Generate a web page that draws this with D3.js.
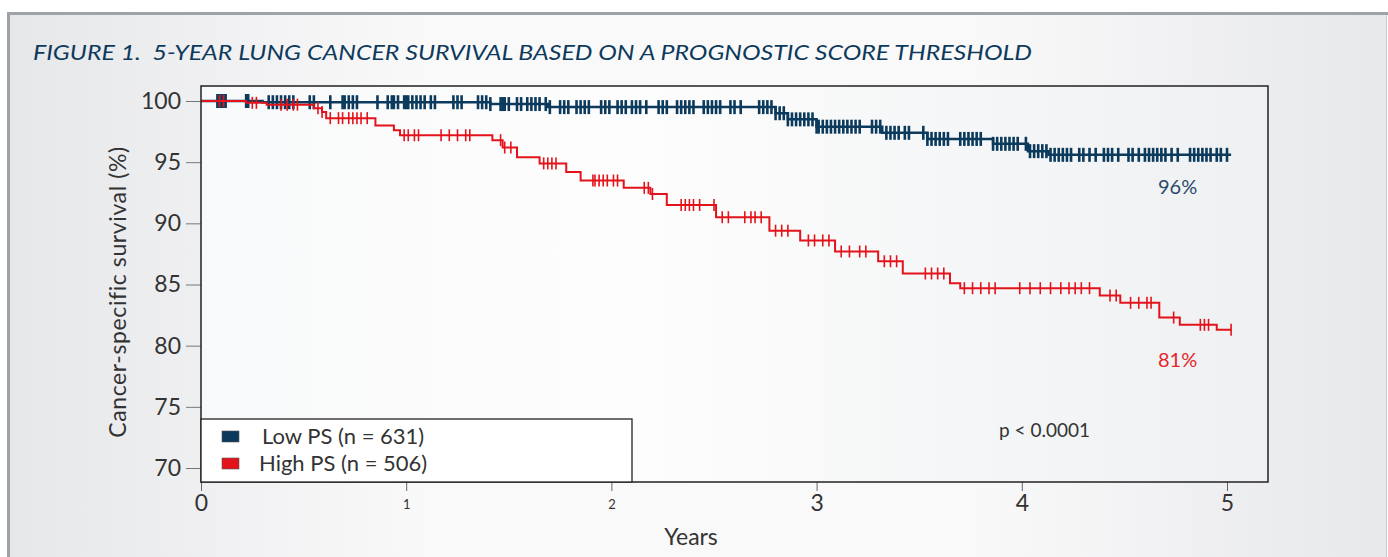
<!DOCTYPE html>
<html>
<head>
<meta charset="utf-8">
<script src="https://cdn.jsdelivr.net/npm/d3@7"></script>
<style>
body { margin: 0; background: #fff; }
text { font-family: Lato, "Noto Sans", sans-serif; }
</style>
</head>
<body>
<svg id="chart"></svg>
<script>
// step points of the two curves (years, survival %)
var lowTimes = [0, 0.30, 1.41, 1.69, 2.80, 2.86, 3.00, 3.32, 3.54, 3.86, 4.03, 4.13];
var lowSurv  = [100, 99.9, 99.75, 99.5, 99.0, 98.5, 97.9, 97.4, 96.9, 96.5, 95.9, 95.6];
var lowEnd = 5.02;

var highTimes = [0, 0.22, 0.32, 0.55, 0.59, 0.61, 0.85, 0.94, 0.97, 1.42, 1.47, 1.54, 1.65, 1.78, 1.85, 2.06, 2.19, 2.27, 2.51, 2.77, 2.92, 3.09, 3.30, 3.42, 3.65, 3.70, 4.38, 4.48, 4.67, 4.77, 4.95];
var highSurv  = [100, 99.85, 99.7, 99.4, 99.1, 98.6, 98.0, 97.6, 97.2, 96.8, 96.2, 95.4, 94.9, 94.2, 93.5, 92.9, 92.4, 91.5, 90.5, 89.4, 88.6, 87.7, 86.9, 85.9, 85.1, 84.7, 84.1, 83.5, 82.3, 81.7, 81.3];
var highEnd = 5.02;

// censored times
var lowCensor = [0.08,0.09,0.10,0.11,0.12,0.22,0.23,0.33,0.35,0.37,0.39,0.41,0.43,0.45,0.53,0.55,0.63,0.69,0.70,0.72,0.74,0.76,0.86,0.91,0.93,0.94,0.96,
  0.99,1.00,1.01,1.03,1.05,1.07,1.09,1.12,1.14,1.23,1.25,1.27,1.35,1.37,1.39,1.41,1.46,1.47,1.48,1.50,1.54,1.56,1.59,1.61,1.63,1.65,1.68,1.70,
  1.75,1.77,1.79,1.83,1.85,1.87,1.89,1.95,1.97,1.99,2.03,2.05,2.07,2.10,2.12,2.14,2.17,2.23,2.25,2.27,2.32,2.34,2.36,2.38,2.40,2.45,2.47,2.49,2.51,2.53,
  2.58,2.60,2.63,2.72,2.74,2.76,2.78,2.80,2.82,2.84,2.86,2.88,2.90,2.92,2.94,2.96,2.98,3.00,3.01,3.03,3.05,3.07,3.09,3.11,3.13,3.15,3.17,3.19,3.21,
  3.27,3.29,3.31,3.34,3.36,3.38,3.40,3.43,3.45,3.52,3.54,3.56,3.58,3.60,3.62,3.64,3.70,3.72,3.74,3.76,3.78,3.80,3.86,3.88,3.90,3.92,3.94,3.96,3.98,
  4.02,4.04,4.06,4.08,4.10,4.12,4.14,4.16,4.18,4.20,4.22,4.24,4.28,4.30,4.33,4.36,4.40,4.42,4.44,4.47,4.52,4.54,4.57,4.60,4.62,4.64,4.66,4.68,4.70,
  4.73,4.76,4.82,4.84,4.86,4.88,4.90,4.92,4.95,4.97,5.00];
var highCensor = [0.09,0.11,0.25,0.27,0.39,0.42,0.45,0.47,0.57,0.59,0.63,0.67,0.69,0.72,0.74,0.76,0.78,0.81,0.99,1.01,1.04,1.06,1.17,1.21,1.25,1.29,1.31,
  1.46,1.48,1.51,1.67,1.69,1.71,1.73,1.91,1.92,1.94,1.96,1.98,2.01,2.03,2.16,2.18,2.20,2.34,2.36,2.38,2.40,2.43,2.50,2.54,2.57,2.65,2.68,2.70,2.73,
  2.80,2.83,2.86,2.96,2.99,3.03,3.06,3.12,3.16,3.21,3.24,3.33,3.36,3.39,3.53,3.56,3.59,3.62,3.72,3.76,3.80,3.84,3.87,3.99,4.04,4.09,4.14,4.19,4.23,
  4.26,4.29,4.33,4.43,4.46,4.53,4.57,4.61,4.63,4.74,4.87,4.89,4.91,5.02];

var xTicks = [0, 1, 2, 3, 4, 5];
var yTicks = [70, 75, 80, 85, 90, 95, 100];
var legendLabels = ["Low PS (n = 631)", "High PS (n = 506)"];
var endLabels = ["96%", "81%"];

var navy = "#0b3a5c", red = "#e3131b";

var W = 1388, H = 557;
var plot = {left: 201, top: 86, right: 1268, bottom: 482};

var svg = d3.select("#chart").attr("width", W).attr("height", H);
var defs = svg.append("defs");

var g1 = defs.append("linearGradient").attr("id", "outerBg");
g1.append("stop").attr("offset", "0%").attr("stop-color", "#e6e7e9");
g1.append("stop").attr("offset", "30%").attr("stop-color", "#f9f9fa");
g1.append("stop").attr("offset", "70%").attr("stop-color", "#f9f9fa");
g1.append("stop").attr("offset", "100%").attr("stop-color", "#e7e8ea");

var g2 = defs.append("linearGradient").attr("id", "plotBg");
g2.append("stop").attr("offset", "0%").attr("stop-color", "#f8f9fa");
g2.append("stop").attr("offset", "40%").attr("stop-color", "#fdfdfd");
g2.append("stop").attr("offset", "100%").attr("stop-color", "#eef0f2");

// outer panel
svg.append("rect").attr("x", 8).attr("y", 13).attr("width", W - 9).attr("height", H - 13)
  .attr("fill", "url(#outerBg)");
svg.append("line").attr("x1", 7).attr("x2", W).attr("y1", 13.5).attr("y2", 13.5)
  .attr("stroke", "#9ea3a8").attr("stroke-width", 3);
svg.append("line").attr("x1", 8.5).attr("x2", 8.5).attr("y1", 12).attr("y2", H)
  .attr("stroke", "#9ea3a8").attr("stroke-width", 3);
svg.append("line").attr("x1", W - 1.5).attr("x2", W - 1.5).attr("y1", 15).attr("y2", H)
  .attr("stroke", "#c9ccd0").attr("stroke-width", 1);

svg.append("text").attr("x", 33).attr("y", 60)
  .attr("fill", "#0d3a5c").attr("font-size", 22).attr("font-style", "italic")
  .attr("font-family", "'Open Sans', Lato, sans-serif")
  .style("white-space", "pre")
  .attr("textLength", 999).attr("lengthAdjust", "spacingAndGlyphs")
  .text("FIGURE 1.  5-YEAR LUNG CANCER SURVIVAL BASED ON A PROGNOSTIC SCORE THRESHOLD");

var x = d3.scaleLinear().domain([0, 5]).range([201, 1227]);
var y = d3.scaleLinear().domain([70, 100]).range([468, 101]);

svg.append("rect").attr("x", plot.left).attr("y", plot.top)
  .attr("width", plot.right - plot.left).attr("height", plot.bottom - plot.top)
  .attr("fill", "url(#plotBg)");

// axes
var xAxis = svg.append("g").attr("transform", "translate(0," + plot.bottom + ")")
  .call(d3.axisBottom(x).tickValues(xTicks).tickFormat(d3.format("d")).tickSize(9).tickPadding(4));
xAxis.select(".domain").remove();
xAxis.selectAll(".tick line").attr("stroke", "#666");
xAxis.selectAll(".tick text").attr("fill", "#333").attr("font-family", "Lato")
  .attr("font-size", function(d) { return (d == 1 || d == 2) ? 13 : 23; })
  .attr("dy", function(d) { return (d == 1 || d == 2) ? "1.1em" : "0.71em"; });

var yAxis = svg.append("g").attr("transform", "translate(" + plot.left + ",0)")
  .call(d3.axisLeft(y).tickValues(yTicks).tickSize(15).tickPadding(5));
yAxis.select(".domain").remove();
yAxis.selectAll(".tick line").attr("stroke", "#777");
yAxis.selectAll(".tick text").attr("fill", "#333").attr("font-family", "Lato").attr("font-size", 23);

svg.append("text").attr("x", 691).attr("y", 545).attr("text-anchor", "middle")
  .attr("fill", "#333").attr("font-size", 23).text("Years");
svg.append("text").attr("transform", "translate(126,292) rotate(-90)").attr("text-anchor", "middle")
  .attr("fill", "#333").attr("font-size", 23).attr("letter-spacing", 0.6)
  .text("Cancer-specific survival (%)");

// curves
var line = d3.line().curve(d3.curveStepAfter)
  .x(function(d) { return x(d[0]); })
  .y(function(d) { return y(d[1]); });

var series = [
  {times: lowTimes, surv: lowSurv, end: lowEnd, censor: lowCensor, color: navy, w: 2.5, cw: 2.6, h: 7},
  {times: highTimes, surv: highSurv, end: highEnd, censor: highCensor, color: red, w: 2, cw: 1.6, h: 6}
];

var bis = d3.bisector(function(d) { return d; }).right;

series.forEach(function(s) {
  var pts = s.times.map(function(t, i) { return [t, s.surv[i]]; });
  pts.push([s.end, s.surv[s.surv.length - 1]]);
  svg.append("path").datum(pts).attr("d", line)
    .attr("fill", "none").attr("stroke", s.color).attr("stroke-width", s.w);
  svg.append("g").selectAll("line").data(s.censor).enter().append("line")
    .attr("x1", function(d) { return x(d); })
    .attr("x2", function(d) { return x(d); })
    .attr("y1", function(d) { return y(s.surv[bis(s.times, d) - 1]) - s.h; })
    .attr("y2", function(d) { return y(s.surv[bis(s.times, d) - 1]) + s.h; })
    .attr("stroke", s.color).attr("stroke-width", s.cw);
});

// frame
svg.append("rect").attr("x", plot.left).attr("y", plot.top)
  .attr("width", plot.right - plot.left).attr("height", plot.bottom - plot.top)
  .attr("fill", "none").attr("stroke", "#222").attr("stroke-width", 1.5);

// legend
var lg = svg.append("g");
lg.append("rect").attr("x", 201).attr("y", 419).attr("width", 431).attr("height", 63)
  .attr("fill", "#fff").attr("stroke", "#222").attr("stroke-width", 1.3);
var items = lg.selectAll(".item").data(legendLabels).enter().append("g")
  .attr("transform", function(d, i) { return "translate(0," + (i * 27) + ")"; });
items.append("rect").attr("x", 222).attr("y", 431).attr("width", 17).attr("height", 11)
  .attr("fill", function(d, i) { return i == 0 ? navy : red; })
  .attr("stroke", "#555").attr("stroke-width", 0.6);
items.append("text").attr("x", function(d, i) { return i == 0 ? 262 : 259; }).attr("y", 444)
  .attr("fill", "#333").attr("font-size", 22).text(function(d) { return d; });

svg.append("text").attr("x", 999).attr("y", 437).attr("fill", "#333").attr("font-size", 19).text("p < 0.0001");

svg.selectAll(".endlab").data(endLabels).enter().append("text")
  .attr("x", 1158).attr("y", function(d, i) { return i == 0 ? 194 : 367; })
  .attr("fill", function(d, i) { return i == 0 ? "#2d4a6b" : "#e3262b"; })
  .attr("font-size", 20).text(function(d) { return d; });
</script>
</body>
</html>
